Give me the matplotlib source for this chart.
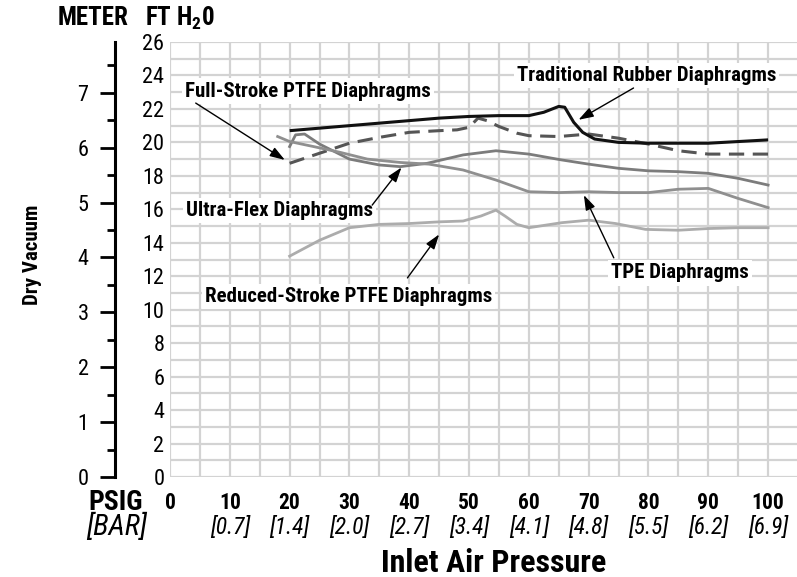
import matplotlib
matplotlib.use("Agg")
import matplotlib.pyplot as plt
from matplotlib.ticker import MultipleLocator

plt.rcParams['font.family'] = ['Roboto Condensed', 'Roboto', 'DejaVu Sans']
plt.rcParams['font.stretch'] = 'condensed'
plt.rcParams['mathtext.fontset'] = 'custom'
plt.rcParams['mathtext.rm'] = 'Roboto Condensed:bold'
plt.rcParams['mathtext.it'] = 'Roboto Condensed:bold'
plt.rcParams['mathtext.bf'] = 'Roboto Condensed:bold'

# dry vacuum (ft H2O) vs inlet air pressure (psig), per diaphragm type
rubber_psi = [20, 25, 30, 35, 40, 45, 50, 55, 60, 62.5, 65, 66, 67.5, 69, 71, 75, 80, 85, 90, 95, 100]
rubber_ft = [20.7, 20.85, 21.0, 21.15, 21.3, 21.45, 21.55, 21.6, 21.6, 21.8, 22.15, 22.1, 21.2, 20.6, 20.2,
             20.0, 19.95, 19.95, 19.95, 20.05, 20.15]

full_ptfe_psi = [20, 25, 30, 35, 40, 45, 48, 50, 51.5, 53, 55, 58, 60, 65, 70, 75, 80, 85, 90, 95, 100]
full_ptfe_ft = [18.75, 19.35, 19.95, 20.3, 20.6, 20.7, 20.75, 20.9, 21.45, 21.3, 20.95, 20.55, 20.4, 20.35,
                20.5, 20.25, 19.9, 19.5, 19.3, 19.3, 19.3]

ultraflex_psi = [20, 21, 22.5, 25, 30, 35, 38.5, 43, 49, 54.5, 60, 65.5, 70, 75, 80, 85, 90, 95, 100]
ultraflex_ft = [19.75, 20.45, 20.5, 19.9, 19.0, 18.65, 18.55, 18.75, 19.25, 19.5, 19.3, 18.95, 18.7, 18.45,
                18.3, 18.25, 18.15, 17.85, 17.45]

tpe_psi = [18, 20, 24, 28.5, 33, 38.5, 43.3, 49, 54.5, 60, 65, 70, 75, 80, 85, 90, 95, 100]
tpe_ft = [20.35, 20.05, 19.75, 19.4, 19.0, 18.8, 18.7, 18.35, 17.75, 17.05, 17.0, 17.05, 17.0, 17.0, 17.2,
          17.25, 16.65, 16.1]

reduced_psi = [20, 25, 30, 35, 40, 45, 49, 52, 54.5, 56, 58, 60, 65.5, 70, 74.5, 79.5, 85, 90, 95, 100]
reduced_ft = [13.2, 14.15, 14.9, 15.1, 15.15, 15.25, 15.3, 15.6, 15.95, 15.6, 15.1, 14.9, 15.2, 15.35, 15.15,
              14.8, 14.75, 14.85, 14.9, 14.9]

psi_ticks = [0, 10, 20, 30, 40, 50, 60, 70, 80, 90, 100]
bar_labels = ['[0.7]', '[1.4]', '[2.0]', '[2.7]', '[3.4]', '[4.1]', '[4.8]', '[5.5]', '[6.2]', '[6.9]']
ft_ticks = list(range(0, 27, 2))
meter_ticks = [0, 1, 2, 3, 4, 5, 6, 7]

W, H = 797, 577
fig = plt.figure(figsize=(W / 100, H / 100), dpi=100)

x0, x1 = 170, 798
y0, y1 = 477, 42
ax = fig.add_axes([x0 / W, 1 - y0 / H, (x1 - x0) / W, (y0 - y1) / H])
ax.set_xlim(0, 105)
ax.set_ylim(0, 26)
for s in ax.spines.values():
    s.set_visible(False)

# light grid: every 5 psi and every 1 ft
grid_c = '#d3d3d3'
for gx in range(0, 101, 5):
    ax.axvline(gx, color=grid_c, lw=1.6, zorder=0)
for gy in range(0, 27):
    ax.axhline(gy, color=grid_c, lw=1.6, zorder=0)

ax.set_xticks(psi_ticks)
ax.set_xticklabels([str(t) for t in psi_ticks], fontweight='bold', fontsize=15.5)
ax.set_yticks(ft_ticks)
ax.set_yticklabels([str(t) for t in ft_ticks], fontsize=16)
ax.tick_params(length=0)
ax.tick_params(axis='y', pad=4)
ax.tick_params(axis='x', pad=11)

for px, lab in zip(psi_ticks[1:], bar_labels):
    ax.text(px, -0.116, lab, transform=ax.get_xaxis_transform(), ha='center', va='center',
            fontsize=17, fontstyle='italic')

# curves
ax.plot(rubber_psi, rubber_ft, color='#111111', lw=2.2, zorder=4, solid_capstyle='butt')
ax.plot(full_ptfe_psi, full_ptfe_ft, color='#555555', lw=2.2, ls=(0, (5, 2.8)), zorder=3)
ax.plot(ultraflex_psi, ultraflex_ft, color='#7c7c7c', lw=2, zorder=3)
ax.plot(tpe_psi, tpe_ft, color='#8f8f8f', lw=2, zorder=3)
ax.plot(reduced_psi, reduced_ft, color='#acacac', lw=2, zorder=3)

# callouts
box = dict(boxstyle='square,pad=0.15', fc='white', ec='none')
arrow = dict(arrowstyle='-|>,head_length=0.9,head_width=0.3', color='black', lw=1, shrinkA=0, shrinkB=0)
callouts = [
    ('Full-Stroke PTFE Diaphragms', (2.5, 23.07), (4.3, 22.35), (19.2, 18.95)),
    ('Traditional Rubber Diaphragms', (58.0, 24.0), (77.5, 23.25), (68.3, 21.35)),
    ('Ultra-Flex Diaphragms', (2.7, 15.95), (33.8, 16.25), (38.7, 18.5)),
    ('Reduced-Stroke PTFE Diaphragms', (5.8, 10.8), (39.7, 11.9), (45.0, 14.5)),
    ('TPE Diaphragms', (73.7, 12.2), (74.2, 13.1), (69.2, 16.85)),
]
for label, txy, tail, head in callouts:
    ax.text(txy[0], txy[1], label, fontsize=15, fontweight='bold', ha='left', va='center',
            bbox=box, zorder=2)
    ax.annotate('', xy=head, xytext=tail, arrowprops=arrow, zorder=5)

# meter scale on the left
mx = 115
ax_m = fig.add_axes([mx / W, 1 - y0 / H, 0.0001, (y0 - y1) / H])
ax_m.set_ylim(0, 26 * 0.3048)
ax_m.set_xticks([])
for k in ['top', 'right', 'bottom']:
    ax_m.spines[k].set_visible(False)
ax_m.spines['left'].set_linewidth(2.2)
ax_m.set_yticks(meter_ticks)
ax_m.yaxis.set_minor_locator(MultipleLocator(0.5))
ax_m.tick_params(axis='y', which='major', length=11, width=2, direction='out', labelsize=16, pad=8)
ax_m.tick_params(axis='y', which='minor', length=6, width=2, direction='out')

fig.text(93 / W, 1 - 18 / H, 'METER', fontsize=18, fontweight='bold', ha='center', va='center')
fig.text(145 / W, 1 - 18 / H, 'FT H$_2$0', fontsize=18, fontweight='bold', ha='left', va='center')
fig.text(33 / W, 1 - 255 / H, 'Dry Vacuum', fontsize=15, fontweight='bold', rotation=90,
         ha='center', va='center')
fig.text(143 / W, 1 - 502 / H, 'PSIG', fontsize=20, fontweight='bold', ha='right', va='center')
fig.text(147 / W, 1 - 527 / H, '[BAR]', fontsize=21, fontstyle='italic', ha='right', va='center')
fig.text(494 / W, 1 - 563 / H, 'Inlet Air Pressure', fontsize=23, fontweight='bold', ha='center', va='center')

fig.savefig('out.png', dpi=100)
